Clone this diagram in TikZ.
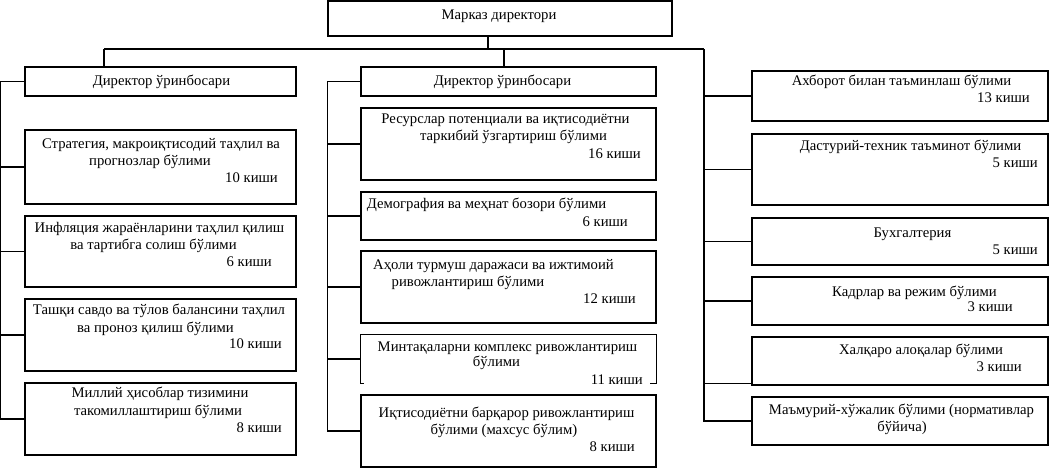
\documentclass[tikz,border=0pt]{standalone}
\usepackage{fontspec}
\setmainfont{Liberation Serif}

\begin{document}
\begin{tikzpicture}[
        x=1pt, y=-1pt,
        every node/.style={font=\fontsize{14.7}{17}\selectfont, inner sep=0pt},
        dept/.style={draw, line width=1.1pt, minimum width=#1},
        link/.style={line width=1.1pt},
        kishi/.style={anchor=base east}
    ]
    \useasboundingbox (0,0) rectangle (1049,468);

    % Draw boxes
    \node[dept=344pt, minimum height=35pt] (top) at (500,18.5) {};
    \node[dept=271pt, minimum height=29pt] (dl) at (160.5,81.5) {};
    \node[dept=295pt, minimum height=29pt] (dm) at (508.5,81.5) {};
    \foreach \n/\y/\h in {l1/167/74, l2/251.5/71, l3/335/72, l4/419/72}
        \node[dept=271pt, minimum height=\h pt] (\n) at (160.5,\y) {};
    \foreach \n/\y/\h in {m1/144/72, m2/216/48, m3/287/72, m5/431/72}
        \node[dept=295pt, minimum height=\h pt] (\n) at (508.5,\y) {};
    \foreach \n/\y/\h in {r1/96/50, r2/169.5/71, r3/241.5/47, r4/301/48, r5/361/48, r6/421/48}
        \node[dept=296pt, minimum height=\h pt] (\n) at (900,\y) {};

    % this one has its bottom line hidden by the text
    \node[minimum width=295pt, minimum height=48pt] (m4) at (508.5,359) {};
    \draw[link] ([xshift=3pt]m4.south west) -- (m4.south west) -- (m4.north west)
        -- (m4.north east) -- (m4.south east) -- ([xshift=-6pt]m4.south east);

    % Texts
    \node (ttop) at (499,20) [anchor=base] {Марказ директори};
    \node (tdl) at (161.5,86) [anchor=base] {Директор ўринбосари};
    \node (tdm) at (502.5,86) [anchor=base] {Директор ўринбосари};
    \foreach \x/\y/\t [count=\k] in {
        161/148/{Стратегия, макроиқтисодий таҳлил ва},
        150/165/{прогнозлар бўлими},
        159.5/232/{Инфляция жараёнларини таҳлил қилиш},
        153.5/249/{ва тартибга солиш бўлими},
        159/314/{Ташқи савдо ва тўлов балансини таҳлил},
        155.5/332/{ва проноз қилиш бўлими},
        160/397/{Миллий ҳисоблар тизимини},
        158/415/{такомиллаштириш бўлими},
        505.5/124/{Ресурслар потенциали ва иқтисодиётни},
        513.5/141/{таркибий ўзгартириш бўлими},
        486.5/208/{Демография ва меҳнат бозори бўлими},
        493.5/269/{Аҳоли турмуш даражаси ва ижтимоий},
        468/286/{ривожлантириш бўлими},
        507.5/351/{Минтақаларни комплекс ривожлантириш},
        496.5/366/{бўлими},
        506.5/417/{Иқтисодиётни барқарор ривожлантириш},
        504/434/{бўлими (махсус бўлим)},
        901.5/86/{Ахборот билан таъминлаш бўлими},
        910.5/150/{Дастурий-техник таъминот бўлими},
        912.5/237/{Бухгалтерия},
        914.5/296/{Кадрлар ва режим бўлими},
        921/354/{Халқаро алоқалар бўлими},
        901.5/414/{Маъмурий-хўжалик бўлими (нормативлар},
        902/431/{бўйича)}}
        \node[anchor=base] (t\k) at (\x,\y) {\t};

    % Staff numbers
    \foreach \x/\y/\t [count=\k] in {278/182/10, 272/266/6, 282/348/10, 282/432/8,
        641/158/16, 628/226/6, 636/303/12, 643/384/11, 635/451/8,
        1030/103/13, 1038/167/5, 1038/254/5, 1013/311/3, 1022/371/3}
        \node[kishi] (k\k) at (\x,\y) {\t\ киши};

    % Draw connectors
    \coordinate (busL) at (104,49);
    \coordinate (busR) at (704,49);
    \draw[link] (busL) -- (busR);
    \draw[link] ([xshift=-12pt]top.south) -- ([xshift=-12pt]top.south |- busL);
    \draw[link] (busL) -- (busL |- dl.north);
    \draw[link] ([xshift=-4.5pt]dm.north) -- ([xshift=-4.5pt]dm.north |- busL);

    \draw[link] (dl.west) -- ++(-24,0) |- (l4.west);
    \foreach \i in {1,2,3}
        \draw[link] (l\i.west) -- ++(-24,0);

    \draw[link] (dm.west) -- ++(-33,0) |- (m5.west);
    \foreach \i in {1,...,4}
        \draw[link] (m\i.west) -- ++(-33,0);

    \draw[link] (busR) |- (r6.west);
    \foreach \i in {1,...,4}
        \draw[link] (r\i.west) -- (r\i.west -| busR);
    \draw[link] ([yshift=2pt]r5.south west) -- ([yshift=2pt]r5.south west -| busR);

\end{tikzpicture}
\end{document}
